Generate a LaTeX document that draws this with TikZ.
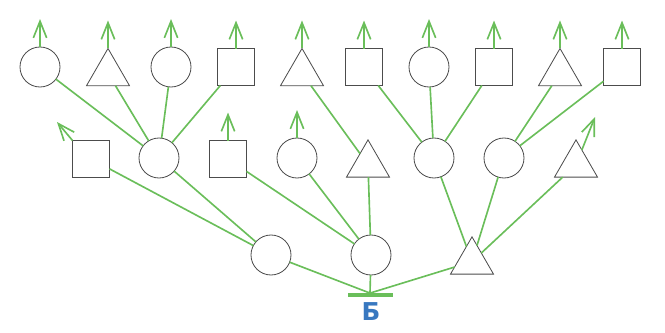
\documentclass[tikz,border=0pt]{standalone}
\usepackage{fontspec}
\newfontfamily\labelfont{DejaVu Sans}
\usetikzlibrary{arrows.meta, shapes.geometric}
\definecolor{lgreen}{RGB}{106,190,90}
\definecolor{lblue}{RGB}{56,120,192}

\begin{document}
\begin{tikzpicture}[x=0.03cm, y=-0.03cm,
    shapeline/.style={draw=black!70, line width=0.7pt, inner sep=0pt, outer sep=0pt},
    circ/.style={shapeline, circle, minimum size=12mm},
    sq/.style={shapeline, rectangle, minimum size=11.1mm},
    tri/.style={shapeline, regular polygon, regular polygon sides=3, minimum size=14.9mm},
    link/.style={draw=lgreen, line width=1.4pt},
    growarrow/.style={link, -{Straight Barb[length=5mm, width=4mm]}}]
    \useasboundingbox (0,0) rectangle (665,333);

    % Top row
    \node[circ] (t1) at (40,67) {};
    \node[tri]  (t2) at (108,73.3) {};
    \node[circ] (t3) at (171,67) {};
    \node[sq]   (t4) at (236,67) {};
    \node[tri]  (t5) at (302,73.3) {};
    \node[sq]   (t6) at (364,67) {};
    \node[circ] (t7) at (429,67) {};
    \node[sq]   (t8) at (494,67) {};
    \node[tri]  (t9) at (560,73.3) {};
    \node[sq]   (t10) at (622,67) {};

    % Middle row
    \node[sq]   (m1) at (91,159) {};
    \node[circ] (m2) at (159,158) {};
    \node[sq]   (m3) at (228,159) {};
    \node[circ] (m4) at (297,158) {};
    \node[tri]  (m5) at (368,164.7) {};
    \node[circ] (m6) at (434,158) {};
    \node[circ] (m7) at (504,158) {};
    \node[tri]  (m8) at (576,164.7) {};

    % Bottom row
    \node[circ] (b1) at (271,255) {};
    \node[circ] (b2) at (371,255) {};
    \node[tri]  (b3) at (472,261.7) {};

    % Ground bar and label
    \node[fill=lgreen, minimum width=13.5mm, minimum height=1mm, inner sep=0pt] (gnd) at (370,295) {};
    \node[text=lblue, font=\labelfont\bfseries\fontsize{21}{24}\selectfont] (lbl) at (371,312) {Б};

    % Links to the ground
    \foreach \n in {b1,b2,b3}
        \draw[link] (\n) -- (gnd.north);

    % Links between rows
    \foreach \a/\b in {b1/m1, b1/m2, b2/m3, b2/m4, b2/m5, b3/m6, b3/m7, b3/m8,
                       m2/t1, m2/t2, m2/t3, m2/t4, m5/t5,
                       m6/t6, m6/t7, m6/t8, m7/t9, m7/t10}
        \draw[link] (\a) -- (\b);

    % Growth arrows
    \foreach \n in {t1,t2,t3,t4,t5,t6,t7,t8,t9,t10,m3,m4} {
        \path (\n.north) ++(0,-28) coordinate (\n-up);
        \draw[growarrow] (\n) -- (\n-up);
    }
    \coordinate (m1-up) at (57,122);
    \draw[growarrow] (m1.north west) -- (m1-up);
    \coordinate (m8-up) at (595,117);
    \draw[growarrow] (m8) -- (m8-up);
\end{tikzpicture}
\end{document}
